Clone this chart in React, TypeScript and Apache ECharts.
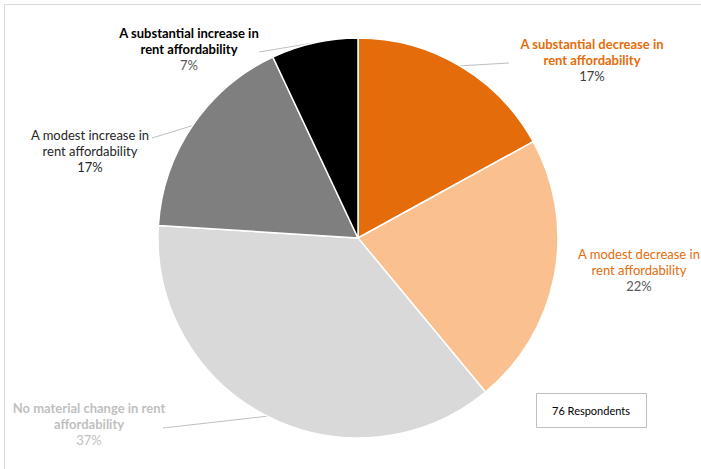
import React, { useEffect, useRef } from "react";
import * as echarts from "echarts";

const categories = [
  "A substantial decrease in rent affordability",
  "A modest decrease in rent affordability",
  "No material change in rent affordability",
  "A modest increase in rent affordability",
  "A substantial increase in rent affordability",
];
const titleLines = [
  ["A substantial decrease in", "rent affordability"],
  ["A modest decrease in", "rent affordability"],
  ["No material change in rent", "affordability"],
  ["A modest increase in", "rent affordability"],
  ["A substantial increase in", "rent affordability"],
];
const shares = [17, 22, 37, 17, 7];
const respondentsText = "76 Respondents";

const sliceColors = ["#E46C0A", "#FAC090", "#D9D9D9", "#7F7F7F", "#000000"];
// label anchor (center x, top y) and leader-line end
const labelAnchors = [
  { x: 592, y: 36, line: [509, 63] },
  { x: 639, y: 246, line: null },
  { x: 89, y: 400, line: [163, 428] },
  { x: 90, y: 127, line: [152, 138] },
  { x: 189, y: 25, line: [259, 52] },
];
const FONT = "Lato";
const FS = 13;

export default function App() {
  const ref = useRef<HTMLDivElement>(null);
  useEffect(() => {
    if (!ref.current) return;
    const chart = echarts.init(ref.current, undefined, { renderer: "svg" });
    const mk = (color: string, bold: boolean) => ({
      color,
      fontWeight: bold ? "bold" : "normal",
      fontFamily: FONT,
      fontSize: FS,
      lineHeight: 16,
      align: "center",
    });
    const rich: any = {
      t0: mk("#E46C0A", true),
      p0: mk("#404040", false),
      t1: mk("#E46C0A", false),
      p1: mk("#595959", false),
      t2: mk("#BFBFBF", true),
      p2: mk("#BFBFBF", false),
      t3: mk("#262626", false),
      p3: mk("#262626", false),
      t4: mk("#000000", true),
      p4: mk("#595959", false),
    };
    const data = categories.map((name, i) => ({
      name,
      value: shares[i],
      itemStyle: { color: sliceColors[i] },
      labelLine: { show: labelAnchors[i].line !== null },
    }));
    chart.setOption({
      animation: false,
      graphic: [
        {
          type: "rect",
          shape: { x: 4.5, y: 4.5, width: 800, height: 800 },
          style: { fill: "none", stroke: "#D9D9D9", lineWidth: 1 },
          z: -10,
          silent: true,
        },
        {
          type: "rect",
          shape: { x: 536.5, y: 393.5, width: 110, height: 34 },
          style: { fill: "#fff", stroke: "#BFBFBF", lineWidth: 1 },
        },
        {
          type: "text",
          x: 591,
          y: 410,
          style: {
            text: respondentsText,
            fill: "#000",
            font: `11px ${FONT}`,
            align: "center",
            verticalAlign: "middle",
          },
        },
      ],
      series: [
        {
          type: "pie",
          center: [358, 238],
          radius: 200,
          startAngle: 90,
          clockwise: true,
          percentPrecision: 0,
          avoidLabelOverlap: false,
          itemStyle: { borderColor: "#ffffff", borderWidth: 1.5 },
          label: {
            show: true,
            position: "outside",
            formatter: (p: any) => {
              const i = p.dataIndex;
              return (
                titleLines[i].map((l) => `{t${i}|${l}}`).join("\n") +
                `\n{p${i}|${p.percent}%}`
              );
            },
            rich,
          },
          labelLine: {
            show: true,
            lineStyle: { color: "#BFBFBF", width: 1 },
          },
          labelLayout: (params: any) => {
            const a = labelAnchors[params.dataIndex];
            const res: any = {
              x: a.x,
              y: a.y,
              align: "center",
              verticalAlign: "top",
            };
            if (a.line && params.labelLinePoints) {
              res.labelLinePoints = [params.labelLinePoints[0], a.line];
            }
            return res;
          },
          emphasis: { disabled: true },
          data,
        },
      ],
    });
    return () => chart.dispose();
  }, []);
  return (
    <div
      ref={ref}
      style={{ position: "fixed", left: 0, top: 0, width: 701, height: 469, background: "#fff" }}
    />
  );
}
